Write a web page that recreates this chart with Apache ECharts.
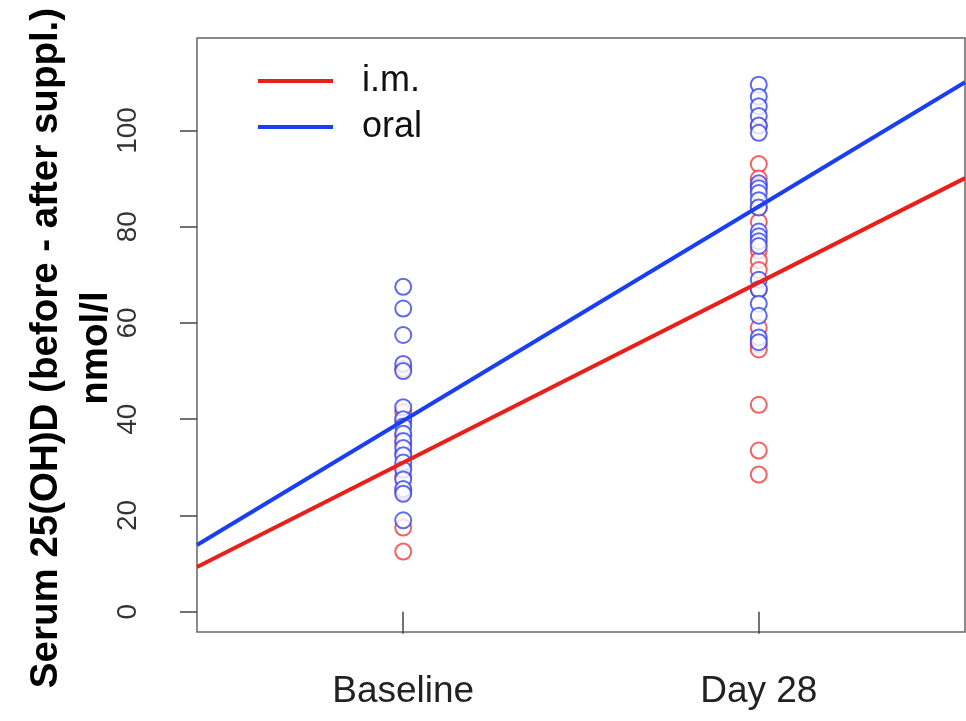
<!DOCTYPE html>
<html>
<head>
<meta charset="utf-8">
<script src="https://cdn.jsdelivr.net/npm/echarts@6/dist/echarts.min.js"></script>
<style>
  html, body { margin: 0; padding: 0; background: #fff; }
  #main { width: 966px; height: 721px; }
</style>
</head>
<body>
<div id="main"></div>
<script>
// time points (x = 1, 2)
var categories = ['Baseline', 'Day 28'];

// individual values, nmol/l
var imBaseline = [50.5, 41.5, 39.5, 36.5, 35, 33, 30, 28, 25, 17.5, 12.5];
var imDay28 = [101, 93, 90, 88.5, 84, 81, 75, 73, 71, 67, 59, 55.5, 54.5, 43, 33.5, 28.5];
var oralBaseline = [67.5, 63, 57.5, 51.5, 50, 42.5, 40, 38.5, 37, 35.5, 34, 32.5, 31, 29.5, 27.5, 25.5, 24.5, 19];
var oralDay28 = [109.5, 107, 105, 103, 101, 99.5, 89, 88, 87, 85.5, 84, 79, 78, 77, 76, 69, 67, 64, 61.5, 57, 56];

// fitted lines: [intercept, slope]
var imFit = [-6.4, 37.4];
var oralFit = [-4.8, 44.5];

var yTicks = [0, 20, 40, 60, 80, 100];
var xMin = 0.42, xMax = 2.58;

function pts(x, vals) {
    return vals.map(function (v) { return [x, v]; });
}
function fitLine(f) {
    return [[xMin, f[0] + f[1] * xMin], [xMax, f[0] + f[1] * xMax]];
}

var red = '#e8201c', blue = '#1a3ff0';
var ptRed = '#f03a3a', ptBlue = '#3444ee';

var chart = echarts.init(document.getElementById('main'));

chart.setOption({
    backgroundColor: '#fff',
    animation: false,
    grid: {
        left: 197, right: 1, top: 38, bottom: 89,
        outerBoundsMode: 'none',
        containLabel: false,
        show: true, borderColor: '#666', borderWidth: 1.5
    },
    legend: {
        orient: 'vertical',
        left: 253,
        top: 58,
        itemWidth: 75,
        itemHeight: 4,
        itemGap: 10,
        icon: 'rect',
        textStyle: { fontFamily: 'Liberation Sans', fontSize: 36, color: '#111', padding: [0, 0, 0, 24] },
        data: ['i.m.', 'oral']
    },
    xAxis: {
        type: 'value',
        min: xMin,
        max: xMax,
        splitLine: { show: false },
        axisLine: { show: false },
        axisTick: { show: true, customValues: [1, 2], length: 22, lineStyle: { color: '#444', width: 1.5 } },
        axisLabel: {
            customValues: [1, 2],
            margin: 41,
            fontFamily: 'Liberation Sans',
            fontSize: 37,
            color: '#222',
            formatter: function (v) { return categories[Math.round(v) - 1]; }
        }
    },
    yAxis: {
        type: 'value',
        min: -4.2,
        max: 119.2,
        splitLine: { show: false },
        axisLine: { show: false },
        axisTick: { show: true, customValues: yTicks, length: 17, lineStyle: { color: '#444', width: 1.5 } },
        axisLabel: {
            customValues: yTicks,
            rotate: 90,
            margin: 55,
            fontFamily: 'Liberation Sans',
            fontSize: 28,
            color: '#333'
        },
        name: 'Serum 25(OH)D (before - after suppl.)\nnmol/l',
        nameLocation: 'middle',
        nameRotate: 90,
        nameGap: 76,
        nameMoveOverlap: false,
        nameTextStyle: {
            fontFamily: 'Liberation Sans',
            fontSize: 38.5,
            fontWeight: 'bold',
            color: '#000',
            lineHeight: 50,
            padding: [0, 26, 0, 0]
        }
    },
    series: [
        {
            name: 'im-points', type: 'scatter', symbol: 'emptyCircle', symbolSize: 16,
            itemStyle: { color: ptRed, borderColor: ptRed, borderWidth: 1.3 },
            data: pts(1, imBaseline).concat(pts(2, imDay28)), z: 2
        },
        {
            name: 'oral-points', type: 'scatter', symbol: 'emptyCircle', symbolSize: 16,
            itemStyle: { color: ptBlue, borderColor: ptBlue, borderWidth: 1.3 },
            data: pts(1, oralBaseline).concat(pts(2, oralDay28)), z: 3
        },
        {
            name: 'i.m.', type: 'line', showSymbol: false, symbol: 'none',
            lineStyle: { color: red, width: 4 }, itemStyle: { color: red },
            data: fitLine(imFit), z: 4
        },
        {
            name: 'oral', type: 'line', showSymbol: false, symbol: 'none',
            lineStyle: { color: blue, width: 4 }, itemStyle: { color: blue },
            data: fitLine(oralFit), z: 5
        }
    ]
});
</script>
</body>
</html>
